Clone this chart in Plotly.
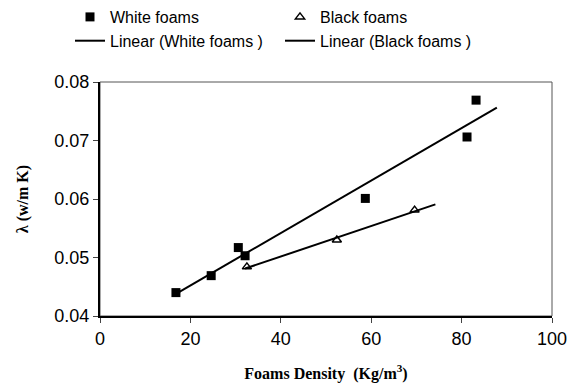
import numpy as np
import plotly.graph_objects as go

white_x = [16.8, 24.6, 30.6, 32.1, 58.7, 81.2, 83.2]
white_y = [0.0440, 0.0469, 0.0517, 0.0503, 0.0601, 0.0706, 0.0769]
black_x = [32.5, 52.4, 69.6]
black_y = [0.0484, 0.0530, 0.0581]
white_fit_range = [17.0, 87.8]
black_fit_range = [32.1, 74.2]

wc = np.polyfit(white_x, white_y, 1)
bc = np.polyfit(black_x, black_y, 1)
wfx = np.array(white_fit_range)
bfx = np.array(black_fit_range)

fig = go.Figure()
fig.add_trace(go.Scatter(x=white_x, y=white_y, mode="markers", name="White foams",
                         marker=dict(symbol="square", size=9, color="black")))
fig.add_trace(go.Scatter(x=black_x, y=black_y, mode="markers", name="Black foams",
                         marker=dict(symbol="triangle-up-open", size=8, color="black",
                                     line=dict(width=1.5, color="black"))))
fig.add_trace(go.Scatter(x=wfx, y=np.polyval(wc, wfx), mode="lines", name="Linear (White foams )",
                         line=dict(color="black", width=2)))
fig.add_trace(go.Scatter(x=bfx, y=np.polyval(bc, bfx), mode="lines", name="Linear (Black foams )",
                         line=dict(color="black", width=2)))

fig.update_layout(
    width=572, height=388,
    margin=dict(l=100, r=20, t=82, b=72, autoexpand=False),
    paper_bgcolor="white", plot_bgcolor="white",
    font=dict(family="Liberation Sans, Arial", color="black"),
    showlegend=True,
    legend=dict(orientation="h", x=70/572, xref="container", y=1, yref="container",
                xanchor="left", yanchor="top", entrywidth=165, tracegroupgap=0,
                font=dict(size=16), bgcolor="rgba(0,0,0,0)"),
    xaxis=dict(range=[0, 100], tickvals=[0, 20, 40, 60, 80, 100], ticks="outside", ticklen=5,
               showgrid=False, zeroline=False, showline=True, linecolor="black", linewidth=2,
               automargin=False, tickfont=dict(size=18),
               title=dict(text="<b>Foams Density  (Kg/m<sup>3</sup>)</b>",
                          font=dict(family="Liberation Serif, Times New Roman", size=16),
                          standoff=20)),
    yaxis=dict(range=[0.04, 0.08], tickvals=[0.04, 0.05, 0.06, 0.07, 0.08],
               ticktext=["0.04", "0.05", "0.06", "0.07", "0.08"], ticks="outside", ticklen=5,
               showgrid=False, zeroline=False, showline=True, linecolor="black", linewidth=2,
               automargin=False, tickfont=dict(size=18),
               title=dict(text="<b>λ (w/m K)</b>",
                          font=dict(family="Liberation Serif, Times New Roman", size=16),
                          standoff=22)),
)
fig.add_shape(type="rect", xref="paper", yref="paper", x0=0, y0=0, x1=1, y1=1,
              line=dict(color="#555", width=1), layer="below")
fig.write_html("out.html")
